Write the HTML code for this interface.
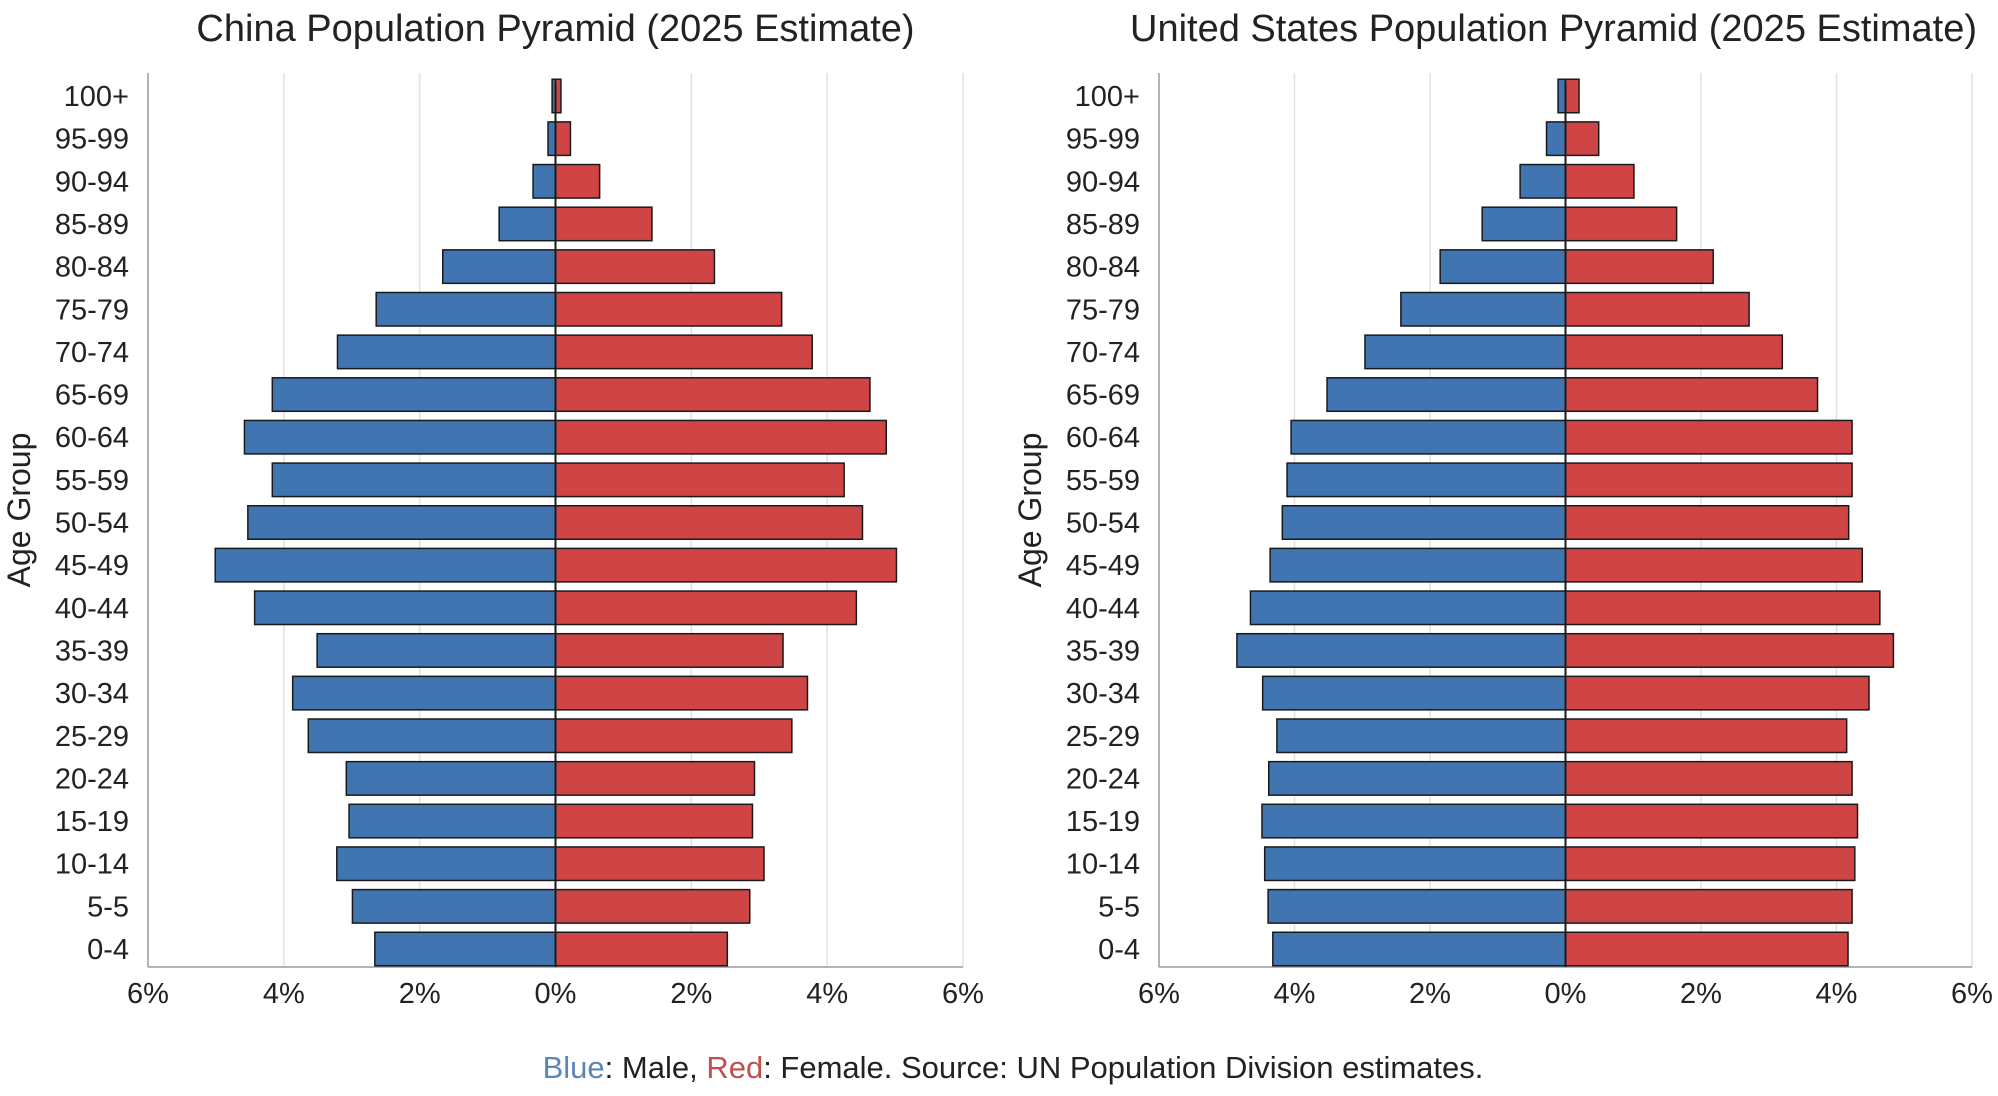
<!DOCTYPE html>
<html><head><meta charset="utf-8">
<style>
html,body{margin:0;padding:0;background:#fff;}
svg{display:block;font-family:"Liberation Sans",Arial,sans-serif;}
</style></head>
<body>
<svg id="chart" width="1998" height="1096" viewBox="0 0 1998 1096" xmlns="http://www.w3.org/2000/svg">
<rect width="1998" height="1096" fill="#fff"/>
<text x="1013" y="1078" font-size="31" text-anchor="middle" fill="#222"><tspan fill="#5b86b5">Blue</tspan>: Male, <tspan fill="#c0504d">Red</tspan>: Female. Source: UN Population Division estimates.</text>
</svg>
<script>
const ageGroups = ["100+","95-99","90-94","85-89","80-84","75-79","70-74","65-69","60-64","55-59","50-54","45-49","40-44","35-39","30-34","25-29","20-24","15-19","10-14","5-5","0-4"];
const chinaMale = [0.05,0.11,0.33,0.83,1.66,2.64,3.21,4.17,4.58,4.17,4.53,5.01,4.43,3.51,3.87,3.64,3.08,3.04,3.22,2.99,2.66];
const chinaFemale = [0.08,0.22,0.65,1.42,2.34,3.33,3.78,4.63,4.87,4.25,4.52,5.02,4.43,3.35,3.71,3.48,2.93,2.90,3.07,2.86,2.53];
const usMale = [0.11,0.28,0.67,1.23,1.85,2.43,2.96,3.52,4.05,4.11,4.18,4.36,4.65,4.85,4.47,4.26,4.38,4.48,4.44,4.39,4.32];
const usFemale = [0.20,0.49,1.01,1.64,2.18,2.71,3.20,3.72,4.23,4.23,4.18,4.38,4.64,4.84,4.48,4.15,4.23,4.31,4.27,4.23,4.17];
const xTicks = [-6,-4,-2,0,2,4,6];
const titles = ["China Population Pyramid (2025 Estimate)","United States Population Pyramid (2025 Estimate)"];

const svg = document.getElementById('chart');
const NS = 'http://www.w3.org/2000/svg';
function mk(tag, attrs, parent){const e=document.createElementNS(NS,tag);for(const k in attrs)e.setAttribute(k,attrs[k]);(parent||svg).appendChild(e);return e;}

function drawPanel(idx, left, right, male, female, prefix){
  const g = mk('g',{});
  
  
  const top = 73, bottom = 967;
  const x = v => left + (v + 6) / 12 * (right - left);
  const y0 = 96, y1 = 949;
  const y = i => y0 + i * (y1 - y0) / (ageGroups.length - 1);
  const bh = 33.5;
  xTicks.forEach(t => {
    if (t === 0 || t === -6) return;
    const l = mk('line',{x1:x(t),x2:x(t),y1:top,y2:bottom,stroke:'#e2e2e2','stroke-width':1.5},g);
    
    
  });
  const ya = mk('line',{x1:left,x2:left,y1:top,y2:bottom,stroke:'#9a9a9a','stroke-width':1.5},g);
  
  
  const xa = mk('line',{x1:left,x2:right,y1:bottom,y2:bottom,stroke:'#9a9a9a','stroke-width':1.5},g);
  
  
  ageGroups.forEach((a, i) => {
    const m = mk('rect',{x:x(-male[i]),y:y(i)-bh/2,width:x(0)-x(-male[i]),height:bh,fill:'#4175b2',stroke:'#1a1a1a','stroke-width':1.5},g);
    
    
    const f = mk('rect',{x:x(0),y:y(i)-bh/2,width:x(female[i])-x(0),height:bh,fill:'#cf4545',stroke:'#1a1a1a','stroke-width':1.5},g);
    
    
    const t = mk('text',{x:left-19,y:y(i)+10,'font-size':29,'text-anchor':'end',fill:'#222'},g);
    t.textContent = a;
    
    
  });
  const c = mk('line',{x1:x(0),x2:x(0),y1:top+10,y2:bottom,stroke:'#1a1a1a','stroke-width':2},g);
  
  
  xTicks.forEach(t => {
    const tx = mk('text',{x:x(t),y:1003,'font-size':29,'text-anchor':'middle',fill:'#222'},g);
    tx.textContent = Math.abs(t)+'%';
    
    
  });
  const ti = mk('text',{x:(left+right)/2+(idx?-12:0),y:41,'font-size':38,'text-anchor':'middle',fill:'#222'},g);
  ti.textContent = titles[idx];
  
  
  const ax = left - 129 + 11;
  const yl = mk('text',{x:ax,y:510,'font-size':32,'text-anchor':'middle',fill:'#222',transform:'rotate(-90 '+ax+' 510)'},g);
  yl.textContent = 'Age Group';
  
  
}
drawPanel(0, 148, 963, chinaMale, chinaFemale, 'china');
drawPanel(1, 1159, 1972, usMale, usFemale, 'us');
</script>
</body></html>
